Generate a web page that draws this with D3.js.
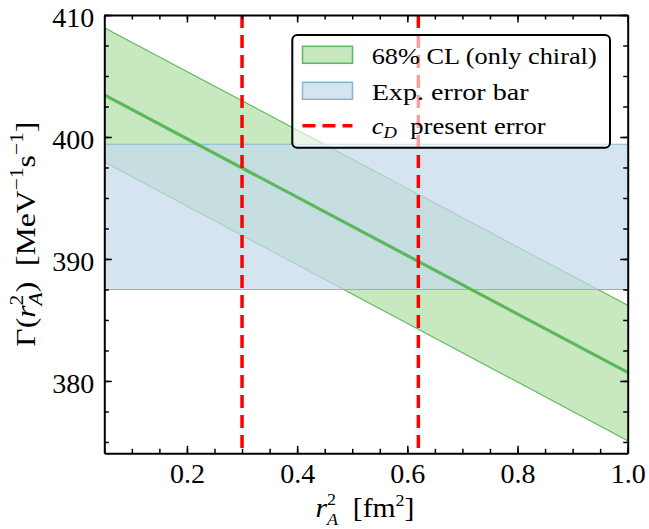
<!DOCTYPE html>
<html><head><meta charset="utf-8">
<script src="https://cdn.jsdelivr.net/npm/d3@7"></script>
<style>
body{margin:0;background:#fff}
svg{display:block}
text{font-family:"Liberation Serif","Times New Roman",serif;fill:#000}
</style>
</head><body>
<svg id="chart" width="649" height="529"></svg>
<script>
// ---- data ----
const xValues    = [0.05, 1.0];            // r_A^2 [fm^2]
const centralFit = [403.45, 380.7];        // central line
const upperCL    = [408.95, 386.2];        // 68% CL upper edge
const lowerCL    = [397.95, 375.1];        // 68% CL lower edge
const expBand    = [387.5, 399.4];         // experimental error band
const cDLines    = [0.30, 0.62];           // c_D present error bounds
const xTicks      = [0.2, 0.4, 0.6, 0.8, 1.0];
const xTickLabels = ["0.2", "0.4", "0.6", "0.8", "1.0"];
const yTicks      = [380, 390, 400, 410];
const yTickLabels = ["380", "390", "400", "410"];
const xMinorTicks = d3.range(1, 21).map(i => +(i * 0.05).toFixed(2));
const yMinorTicks = d3.range(0, 15).map(i => 375 + i * 2.5);
const legendLabels = ["68% CL (only chiral)", "Exp. error bar", "present error"];

// ---- layout ----
const L = 104.3, R = 627.7, T = 15, B = 453.3;
const svg = d3.select("#chart");
const x = d3.scaleLinear().domain([0.05, 1.0]).range([L, R]);
const y = d3.scaleLinear().domain([374.07, 410]).range([B, T]);

const GREEN_FILL = "rgb(200,232,192)";
const GREEN_LINE = "rgb(92,184,92)";
const BLUE_FILL = "rgb(198,218,235)";
const BLUE_LINE = "rgb(128,184,220)";

const defs = svg.append("defs");
defs.append("clipPath").attr("id", "clip").append("rect")
  .attr("x", L).attr("y", T).attr("width", R - L).attr("height", B - T);
const plot = svg.append("g").attr("clip-path", "url(#clip)");

const pts = xValues.map((v, i) => ({x: v, c: centralFit[i], u: upperCL[i], l: lowerCL[i]}));

// green band
plot.append("path").datum(pts)
  .attr("d", d3.area().x(d => x(d.x)).y0(d => y(d.l)).y1(d => y(d.u)))
  .attr("fill", GREEN_FILL).attr("stroke", "none");
["u", "l"].forEach(k => {
  plot.append("path").datum(pts)
    .attr("d", d3.line().x(d => x(d.x)).y(d => y(d[k])))
    .attr("fill", "none").attr("stroke", GREEN_LINE).attr("stroke-width", 1.1);
});

// blue exp band
plot.append("rect")
  .attr("x", L).attr("width", R - L)
  .attr("y", y(expBand[1])).attr("height", y(expBand[0]) - y(expBand[1]))
  .attr("fill", BLUE_FILL).attr("fill-opacity", 0.72);
expBand.forEach(v => {
  plot.append("line").attr("x1", L).attr("x2", R).attr("y1", y(v)).attr("y2", y(v))
    .attr("stroke", BLUE_LINE).attr("stroke-width", 1.1);
});

// central line
plot.append("path").datum(pts)
  .attr("d", d3.line().x(d => x(d.x)).y(d => y(d.c)))
  .attr("fill", "none").attr("stroke", GREEN_LINE).attr("stroke-width", 3.2);

// red dashed lines
cDLines.forEach(v => {
  plot.append("line").attr("x1", x(v)).attr("x2", x(v)).attr("y1", T).attr("y2", B)
    .attr("stroke", "#ff0000").attr("stroke-width", 3.5).attr("stroke-dasharray", "13,7");
});

// ---- axes ----
const FS = 28;
function styleAxis(g) {
  g.attr("font-family", null);
  g.selectAll(".domain").attr("stroke", "#000").attr("stroke-width", 2);
  g.selectAll(".tick line").attr("stroke", "#000").attr("stroke-width", 1.5);
  g.selectAll("text").style("font-family", "'Liberation Serif', serif").attr("font-size", FS).attr("fill", "#000");
}
// bottom
svg.append("g").attr("transform", `translate(0,${B})`)
  .call(d3.axisBottom(x).tickValues(xMinorTicks).tickSizeInner(-4.5).tickSizeOuter(0).tickFormat(""))
  .call(g => g.select(".domain").remove()).call(styleAxis);
svg.append("g").attr("transform", `translate(0,${B})`)
  .call(d3.axisBottom(x).tickValues(xTicks).tickSizeInner(-7.5).tickSizeOuter(0).tickPadding(10)
    .tickFormat((d, i) => xTickLabels[i]))
  .call(styleAxis);
// top
svg.append("g").attr("transform", `translate(0,${T})`)
  .call(d3.axisTop(x).tickValues(xMinorTicks).tickSizeInner(-4.5).tickSizeOuter(0).tickFormat(""))
  .call(g => g.select(".domain").remove()).call(styleAxis);
svg.append("g").attr("transform", `translate(0,${T})`)
  .call(d3.axisTop(x).tickValues(xTicks).tickSizeInner(-7.5).tickSizeOuter(0).tickFormat(""))
  .call(styleAxis);
// left
svg.append("g").attr("transform", `translate(${L},0)`)
  .call(d3.axisLeft(y).tickValues(yMinorTicks).tickSizeInner(-4.5).tickSizeOuter(0).tickFormat(""))
  .call(g => g.select(".domain").remove()).call(styleAxis);
svg.append("g").attr("transform", `translate(${L},0)`)
  .call(d3.axisLeft(y).tickValues(yTicks).tickSizeInner(-7.5).tickSizeOuter(0).tickPadding(10)
    .tickFormat((d, i) => yTickLabels[i]))
  .call(styleAxis)
  .call(g => g.selectAll("text").attr("dy", "0.40em"));
// right
svg.append("g").attr("transform", `translate(${R},0)`)
  .call(d3.axisRight(y).tickValues(yMinorTicks).tickSizeInner(-4.5).tickSizeOuter(0).tickFormat(""))
  .call(g => g.select(".domain").remove()).call(styleAxis);
svg.append("g").attr("transform", `translate(${R},0)`)
  .call(d3.axisRight(y).tickValues(yTicks).tickSizeInner(-7.5).tickSizeOuter(0).tickFormat(""))
  .call(styleAxis);

// ---- axis titles ----
const SS = 19, SX = 17;
const xl = svg.append("text").attr("x", 365).attr("y", 517).attr("text-anchor", "middle")
  .attr("font-size", FS);
xl.append("tspan").attr("font-style", "italic").text("r");
xl.append("tspan").attr("font-size", SX).attr("dy", -12).text("2");
xl.append("tspan").attr("font-size", SX).attr("font-style", "italic").attr("dx", -8.5).attr("dy", 20).text("A");
xl.append("tspan").attr("dy", -8).text("\u2002[fm");
xl.append("tspan").attr("font-size", SX).attr("dy", -11).text("2");
xl.append("tspan").attr("dy", 11).text("]");
xl.attr("textLength", 99).attr("lengthAdjust", "spacingAndGlyphs");

const yl = svg.append("text").attr("transform", `translate(35,${(T + B) / 2}) rotate(-90)`)
  .attr("text-anchor", "middle").attr("font-size", FS);
yl.append("tspan").text("\u0393(");
yl.append("tspan").attr("font-style", "italic").text("r");
yl.append("tspan").attr("font-size", SS).attr("dy", -12).text("2");
yl.append("tspan").attr("font-size", SS).attr("font-style", "italic").attr("dx", -9.5).attr("dy", 19).text("A");
yl.append("tspan").attr("dy", -7).text(")\u2002[MeV");
yl.append("tspan").attr("font-size", SS).attr("dy", -12).text("\u22121");
yl.append("tspan").attr("dy", 12).text("s");
yl.append("tspan").attr("font-size", SS).attr("dy", -12).text("\u22121");
yl.append("tspan").attr("dy", 12).text("]");
yl.attr("textLength", 225).attr("lengthAdjust", "spacingAndGlyphs");

// ---- legend ----
const lg = svg.append("g");
lg.append("rect").attr("x", 292.3).attr("y", 35).attr("width", 317.7).attr("height", 112.7)
  .attr("rx", 5).attr("fill", "#fff").attr("fill-opacity", 0.62)
  .attr("stroke", "#000").attr("stroke-width", 2);
const LFS = 23;
lg.append("rect").attr("x", 302.5).attr("y", 46.3).attr("width", 50).attr("height", 17)
  .attr("fill", GREEN_FILL).attr("stroke", GREEN_LINE).attr("stroke-width", 1.5);
lg.append("rect").attr("x", 302.5).attr("y", 82.3).attr("width", 50).attr("height", 17)
  .attr("fill", "rgb(214,228,240)").attr("stroke", BLUE_LINE).attr("stroke-width", 1.5);
lg.append("line").attr("x1", 302.5).attr("x2", 352.5).attr("y1", 125.7).attr("y2", 125.7)
  .attr("stroke", "#ff0000").attr("stroke-width", 3.5).attr("stroke-dasharray", "13,7");
const targetW = [225, 157, 174];
const t1 = lg.append("text").attr("x", 371.7).attr("y", 63.5).attr("font-size", LFS).text(legendLabels[0]);
const t2 = lg.append("text").attr("x", 371.7).attr("y", 99.5).attr("font-size", LFS).text(legendLabels[1]);
const t3 = lg.append("text").attr("x", 371.7).attr("y", 133.5).attr("font-size", LFS);
t3.append("tspan").attr("font-style", "italic").text("c");
t3.append("tspan").attr("font-style", "italic").attr("font-size", 16).attr("dy", 4).text("D");
t3.append("tspan").attr("dy", -4).text("\u2002" + legendLabels[2]);
[t1, t2, t3].forEach((t, i) => {
  t.attr("textLength", targetW[i]).attr("lengthAdjust", "spacingAndGlyphs");
});
</script>
</body></html>
